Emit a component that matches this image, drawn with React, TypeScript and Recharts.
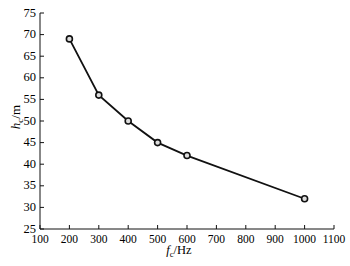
import React from 'react';
import { LineChart, Line, XAxis, YAxis } from 'recharts';

const freqs = [200, 300, 400, 500, 600, 1000];
const heights = [69, 56, 50, 45, 42, 32];
const xTicks = [100, 200, 300, 400, 500, 600, 700, 800, 900, 1000, 1100];
const yTicks = [25, 30, 35, 40, 45, 50, 55, 60, 65, 70, 75];

const data = freqs.map((f, i) => ({ f, h: heights[i] }));

const FONT = '"Liberation Serif", "DejaVu Serif", serif';
const INK = '#111';

const BottomTick = (props: any) => {
  const { x, y, payload } = props;
  return (
    <g>
      <line x1={x} y1={y} x2={x} y2={y - 4} stroke={INK} strokeWidth={1} />
      <text x={x} y={y + 13.5} textAnchor="middle" fontSize={11.5} fontFamily={FONT} fill="#000">
        {payload.value}
      </text>
    </g>
  );
};

const LeftTick = (props: any) => {
  const { x, y, payload } = props;
  return (
    <g>
      <line x1={x} y1={y} x2={x + 4} y2={y} stroke={INK} strokeWidth={1} />
      <text x={x - 4} y={y + 3.5} textAnchor="end" fontSize={12.5} fontFamily={FONT} fill="#000">
        {payload.value}
      </text>
    </g>
  );
};

const TopTick = (props: any) => {
  const { x, y } = props;
  return <line x1={x} y1={y} x2={x} y2={y + 4} stroke={INK} strokeWidth={1} />;
};

const RightTick = (props: any) => {
  const { x, y } = props;
  return <line x1={x} y1={y} x2={x - 4} y2={y} stroke={INK} strokeWidth={1} />;
};

const XLabel = ({ viewBox }: any) => {
  const cx = viewBox.x + viewBox.width / 2 - 8;
  return (
    <text x={cx} y={viewBox.y + 25} textAnchor="middle" fontSize={12.5} fontFamily={FONT} fill="#000">
      <tspan fontStyle="italic">f</tspan>
      <tspan fontSize={8.5} dy={3}>c</tspan>
      <tspan dy={-3}>/Hz</tspan>
    </text>
  );
};

const YLabel = ({ viewBox }: any) => {
  const cx = 20;
  const cy = viewBox.y + viewBox.height / 2 - 4;
  return (
    <text
      x={cx}
      y={cy}
      textAnchor="middle"
      fontSize={13}
      fontFamily={FONT}
      fill="#000"
      transform={`rotate(-90 ${cx} ${cy})`}
    >
      <tspan fontStyle="italic">h</tspan>
      <tspan fontSize={9} dy={3}>c</tspan>
      <tspan dy={-3}>/m</tspan>
    </text>
  );
};

export default function App() {
  return (
    <div style={{ position: 'absolute', left: 0, top: 0, width: 350, height: 266, background: '#fff' }}>
      <LineChart width={350} height={266} data={data} margin={{ top: 13, right: 16, bottom: 17, left: 10 }}>
        <XAxis
          dataKey="f"
          type="number"
          domain={[100, 1100]}
          ticks={xTicks}
          interval={0}
          height={20}
          tickSize={0}
          tickMargin={0}
          tickLine={false}
          axisLine={{ stroke: INK }}
          tick={<BottomTick />}
          label={<XLabel />}
        />
        <XAxis
          xAxisId="top"
          orientation="top"
          dataKey="f"
          type="number"
          domain={[100, 1100]}
          ticks={xTicks}
          interval={0}
          height={0}
          tickSize={0}
          tickMargin={0}
          tickLine={false}
          axisLine={{ stroke: INK }}
          tick={<TopTick />}
        />
        <YAxis
          type="number"
          domain={[25, 75]}
          ticks={yTicks}
          interval={0}
          width={30}
          tickSize={0}
          tickMargin={0}
          tickLine={false}
          axisLine={{ stroke: INK }}
          tick={<LeftTick />}
          label={<YLabel />}
        />
        <YAxis
          yAxisId="right"
          orientation="right"
          type="number"
          domain={[25, 75]}
          ticks={yTicks}
          interval={0}
          width={0}
          tickSize={0}
          tickMargin={0}
          tickLine={false}
          axisLine={{ stroke: INK }}
          tick={<RightTick />}
        />
        <Line
          dataKey="h"
          stroke={INK}
          strokeWidth={1.8}
          dot={{ r: 3, stroke: INK, strokeWidth: 1.6, fill: '#ddd' }}
          isAnimationActive={false}
        />
      </LineChart>
    </div>
  );
}
